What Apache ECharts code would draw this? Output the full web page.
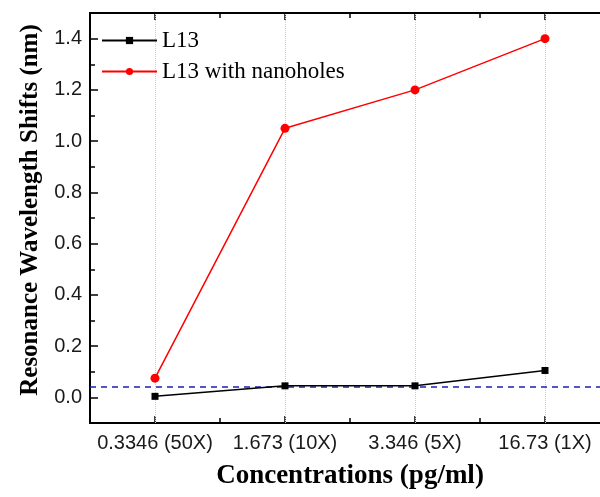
<!DOCTYPE html>
<html>
<head>
<meta charset="utf-8">
<script src="https://cdn.jsdelivr.net/npm/echarts@6/dist/echarts.min.js"></script>
<style>html,body{margin:0;padding:0;background:#fff;}#c{width:600px;height:497px;}</style>
</head>
<body>
<div id="c"></div>
<script>
var categories = ['0.3346 (50X)', '1.673 (10X)', '3.346 (5X)', '16.73 (1X)'];
var l13 = [0.004, 0.045, 0.045, 0.105];
var l13Nanoholes = [0.075, 1.05, 1.2, 1.4];
var thresholdValue = 0.04;
var yMajorTicks = [0, 0.2, 0.4, 0.6, 0.8, 1.0, 1.2, 1.4];
var yMinorTicks = [-0.1, 0.1, 0.3, 0.5, 0.7, 0.9, 1.1, 1.3];

var chart = echarts.init(document.getElementById('c'), null, {renderer: 'canvas'});
var axisLine = {show: true, onZero: false, lineStyle: {color: '#000', width: 2}};
var sans = 'Liberation Sans, Arial, sans-serif';
var serif = 'Liberation Serif, Times New Roman, serif';

function catAxis(gridIndex, position, major, showLabel, extra) {
  var a = {
    type: 'category', gridIndex: gridIndex, position: position, data: categories,
    boundaryGap: true,
    axisLine: axisLine,
    axisTick: {show: true, inside: true, alignWithLabel: major, length: major ? 7 : 5, lineStyle: {color: '#000', width: 1.5}},
    axisLabel: {show: showLabel, interval: 0, fontFamily: sans, fontSize: 20, color: '#1a1a1a', margin: 10},
    splitLine: {show: false}
  };
  if (extra) for (var k in extra) a[k] = extra[k];
  return a;
}
function valAxis(gridIndex, position, ticks, len, showLabel, extra) {
  var a = {
    type: 'value', gridIndex: gridIndex, position: position, min: -0.1, max: 1.5,
    axisLine: axisLine,
    axisTick: {show: true, inside: true, length: len, customValues: ticks, lineStyle: {color: '#000', width: 1.5}},
    axisLabel: {show: showLabel, customValues: ticks, fontFamily: sans, fontSize: 20, color: '#1a1a1a', margin: 8,
      formatter: function (v) { return v.toFixed(1); }},
    splitLine: {show: false}
  };
  if (extra) for (var k in extra) a[k] = extra[k];
  return a;
}

var gridBox = {left: 90, width: 520, top: 13, bottom: 74, containLabel: false, outerBoundsMode: 'none'};
var option = {
  animation: false,
  backgroundColor: '#fff',
  grid: [gridBox, Object.assign({}, gridBox)],
  legend: {
    orient: 'vertical', left: 96, top: 24, itemWidth: 55, itemHeight: 9, itemGap: 8,
    textStyle: {fontFamily: serif, fontSize: 23, color: '#000', lineHeight: 23},
    data: ['L13', 'L13 with nanoholes']
  },
  xAxis: [
    catAxis(0, 'bottom', true, true, {
      name: 'Concentrations (pg/ml)', nameLocation: 'middle', nameGap: 40,
      nameTextStyle: {fontFamily: serif, fontSize: 27, fontWeight: 'bold', color: '#000'}
    }),
    catAxis(0, 'top', true, false),
    catAxis(1, 'bottom', false, false),
    catAxis(1, 'top', false, false)
  ],
  yAxis: [
    valAxis(0, 'left', yMajorTicks, 8, true, {
      name: 'Resonance Wavelength Shifts (nm)', nameLocation: 'middle', nameGap: 47, nameRotate: 90,
      nameTextStyle: {fontFamily: serif, fontSize: 25, fontWeight: 'bold', color: '#000', padding: [0, 0, 0, 16]}
    }),
    valAxis(0, 'right', yMajorTicks, 10, false),
    valAxis(1, 'left', yMinorTicks, 5, false),
    valAxis(1, 'right', yMinorTicks, 5, false)
  ],
  series: [
    {
      name: 'L13', type: 'line', xAxisIndex: 0, yAxisIndex: 0, data: l13,
      symbol: 'rect', symbolSize: 7, z: 5,
      lineStyle: {color: '#000', width: 1.5}, itemStyle: {color: '#000'},
      markLine: {
        silent: true, symbol: ['none', 'none'], label: {show: false}, z: 1,
        data: [
          {xAxis: categories[0], lineStyle: {color: '#cccccc', type: 'dotted', width: 1}},
          {xAxis: categories[1], lineStyle: {color: '#cccccc', type: 'dotted', width: 1}},
          {xAxis: categories[2], lineStyle: {color: '#cccccc', type: 'dotted', width: 1}},
          {xAxis: categories[3], lineStyle: {color: '#cccccc', type: 'dotted', width: 1}},
          {yAxis: thresholdValue, lineStyle: {color: '#1e1eb4', type: [6, 5], width: 1.5}}
        ]
      }
    },
    {
      name: 'L13 with nanoholes', type: 'line', xAxisIndex: 0, yAxisIndex: 0, data: l13Nanoholes,
      symbol: 'circle', symbolSize: 9, z: 6,
      lineStyle: {color: '#ff0000', width: 1.5}, itemStyle: {color: '#ff0000'}
    }
  ]
};
chart.setOption(option);
</script>
</body>
</html>
